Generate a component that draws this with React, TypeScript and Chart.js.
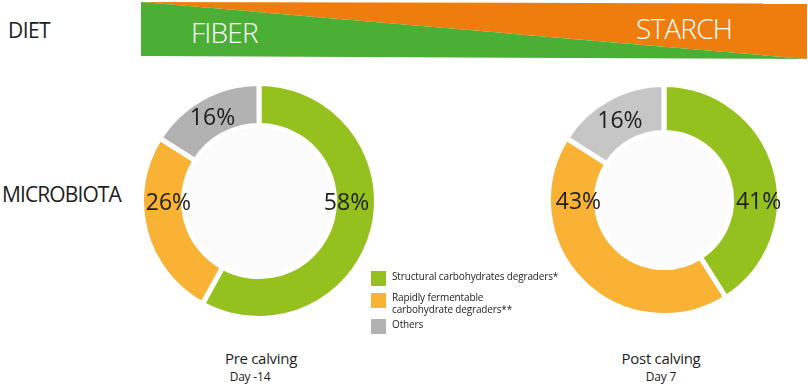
import React, { useEffect, useRef } from "react";
import { Chart, registerables } from "chart.js";

Chart.register(...registerables);

const categories = [
  "Structural carbohydrates degraders*",
  "Rapidly fermentable carbohydrate degraders**",
  "Others",
];
const legendLines = [
  ["Structural carbohydrates degraders*"],
  ["Rapidly fermentable", "carbohydrate degraders**"],
  ["Others"],
];
const preCalving = [58, 26, 16];
const postCalving = [41, 43, 16];
const colorsPre = ["#95C11F", "#F9B233", "#B2B2B2"];
const colorsPost = ["#95C11F", "#F9B233", "#C6C6C6"];
const legendColors = ["#95C11F", "#F9B233", "#B2B2B2"];
const dietLabels = ["FIBER", "STARCH"];
const rowLabels = ["DIET", "MICROBIOTA"];
const captions = [
  ["Pre calving", "Day -14"],
  ["Post calving", "Day 7"],
];

const FONT = "'Open Sans', 'DejaVu Sans', sans-serif";

const holePlugin = {
  id: "hole",
  beforeDatasetsDraw(chart: any) {
    const meta = chart.getDatasetMeta(0);
    const arc = meta.data[0];
    if (!arc) return;
    const { x, y, innerRadius } = arc.getProps(["x", "y", "innerRadius"], true);
    const ctx = chart.ctx;
    ctx.save();
    ctx.fillStyle = "#FBFBFB";
    ctx.beginPath();
    ctx.arc(x, y, innerRadius, 0, Math.PI * 2);
    ctx.fill();
    ctx.restore();
  },
};

const norm = (a: number) => {
  const t = Math.PI * 2;
  return ((a % t) + t) % t;
};
const contains = (s: number, e: number, a: number) => {
  const span = e - s;
  const d = norm(a - s);
  return d <= span;
};

const labelPlugin = {
  id: "pctLabels",
  afterDatasetsDraw(chart: any, _args: any, opts: any) {
    const meta = chart.getDatasetMeta(0);
    const data = chart.data.datasets[0].data;
    const ctx = chart.ctx;
    const shift = (opts && opts.shift) || 0;
    ctx.save();
    ctx.font = `400 23px ${FONT}`;
    ctx.fillStyle = "#1D1D1B";
    ctx.textAlign = "center";
    ctx.textBaseline = "middle";
    meta.data.forEach((arc: any, i: number) => {
      const p = arc.getProps(["x", "y", "startAngle", "endAngle", "innerRadius", "outerRadius"], true);
      let ang = (p.startAngle + p.endAngle) / 2;
      let r = (p.innerRadius + p.outerRadius) / 2;
      if (contains(p.startAngle, p.endAngle, 0)) {
        ang = 0;
        r += shift;
      } else if (contains(p.startAngle, p.endAngle, Math.PI)) {
        ang = Math.PI;
        r -= 6;
      }
      const tx = p.x + Math.cos(ang) * r;
      const ty = p.y + Math.sin(ang) * r + 2;
      ctx.fillText(`${data[i]}%`, tx, ty);
    });
    ctx.restore();
  },
};

function Donut(props: { values: number[]; colors: string[]; size: number; cutout: string; left: number; top: number; shift: number }) {
  const ref = useRef<HTMLCanvasElement>(null);
  useEffect(() => {
    const c = ref.current;
    if (!c) return;
    const chart = new Chart(c, {
      type: "doughnut",
      data: {
        labels: categories,
        datasets: [
          {
            data: props.values,
            backgroundColor: props.colors,
            borderColor: "#FFFFFF",
            borderWidth: 5,
            hoverBorderWidth: 5,
          },
        ],
      },
      options: {
        responsive: false,
        animation: false,
        devicePixelRatio: 1,
        cutout: props.cutout,
        layout: { padding: 0 },
        plugins: { legend: { display: false }, tooltip: { enabled: false }, pctLabels: { shift: props.shift } },
        events: [],
      },
      plugins: [holePlugin, labelPlugin],
    } as any);
    return () => chart.destroy();
  }, []);
  return (
    <canvas
      ref={ref}
      width={props.size}
      height={props.size}
      style={{ position: "absolute", left: props.left, top: props.top, width: props.size, height: props.size }}
    />
  );
}

export default function App() {
  const text = (s: any) => ({ position: "absolute" as const, whiteSpace: "nowrap" as const, fontFamily: FONT, color: "#1D1D1B", ...s });
  return (
    <div style={{ position: "absolute", left: 0, top: 0, width: 808, height: 387, background: "#FFFFFF", overflow: "hidden" }}>
      <svg width={808} height={70} style={{ position: "absolute", left: 0, top: 0 }}>
        <polygon points="141,2 807,3.5 807,59" fill="#EE7D0E" />
        <polygon points="141,2 807,59 141,56" fill="#4CAF35" />
      </svg>
      <div style={text({ left: 8, top: 16, fontSize: 21, letterSpacing: -0.6, lineHeight: "28px" })}>{rowLabels[0]}</div>
      <div style={text({ left: 2, top: 180, fontSize: 21, letterSpacing: -0.9, lineHeight: "28px" })}>{rowLabels[1]}</div>
      <div style={text({ left: 191, top: 13, fontSize: 28, fontWeight: 300, letterSpacing: -0.8, color: "#FFFFFF", lineHeight: "38px" })}>{dietLabels[0]}</div>
      <div style={text({ left: 636, top: 9, fontSize: 28, fontWeight: 300, letterSpacing: -0.8, color: "#FFFFFF", lineHeight: "38px" })}>{dietLabels[1]}</div>

      <Donut values={preCalving} colors={colorsPre} size={240} cutout="64.3%" left={139} top={81} shift={-9} />
      <Donut values={postCalving} colors={colorsPost} size={236} cutout="58.5%" left={546} top={82} shift={3} />

      {legendLines.map((lines, i) => {
        const tops = [270, 291, 318];
        return (
          <div key={i} style={{ position: "absolute", left: 371, top: tops[i] }}>
            <div style={{ position: "absolute", left: 0, top: i === 1 ? 2 : 1, width: 15, height: 15, background: legendColors[i] }} />
            <div style={text({ left: 21, top: 0, fontSize: 10, letterSpacing: -0.15, lineHeight: "12px" })}>
              {lines.map((l, j) => (
                <div key={j}>{l}</div>
              ))}
            </div>
          </div>
        );
      })}

      {captions.map((c, i) => {
        const cx = [261, 661][i];
        return (
          <React.Fragment key={i}>
            <div style={text({ left: cx - 60, width: 120, textAlign: "center", top: 348, fontSize: 15, letterSpacing: -0.3, lineHeight: "20px" })}>{c[0]}</div>
            <div style={text({ left: cx - 60 - (i === 0 ? 11 : 0), width: 120, textAlign: "center", top: 369, fontSize: 12, letterSpacing: -0.2, lineHeight: "16px" })}>{c[1]}</div>
          </React.Fragment>
        );
      })}
    </div>
  );
}
